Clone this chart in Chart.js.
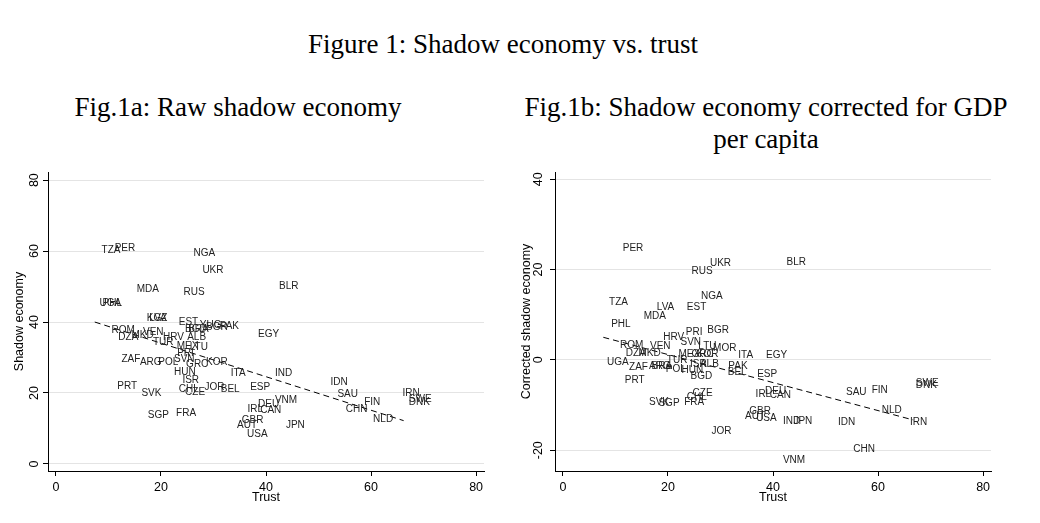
<!DOCTYPE html>
<html><head><meta charset="utf-8">
<script src="https://cdn.jsdelivr.net/npm/chart.js@4.4.1/dist/chart.umd.min.js"></script>
<style>
html,body{margin:0;padding:0;background:#fff;}
body{width:1040px;height:523px;position:relative;overflow:hidden;}
.t{position:absolute;font-family:"Liberation Serif","Times New Roman",serif;font-size:27px;color:#000;white-space:nowrap;transform:translate(-50%,-50%);line-height:1;}
canvas{position:absolute;top:0;}
</style></head><body>
<div class="t" style="left:503px;top:44px">Figure 1: Shadow economy vs. trust</div>
<div class="t" style="left:238px;top:107px">Fig.1a: Raw shadow economy</div>
<div class="t" style="left:766px;top:107px">Fig.1b: Shadow economy corrected for GDP</div>
<div class="t" style="left:766px;top:139px">per capita</div>
<canvas id="c1" width="520" height="523" style="left:0;width:520px;height:523px"></canvas>
<canvas id="c2" width="520" height="523" style="left:507px;width:520px;height:523px"></canvas>
<script>
// ---- Fig.1a data ----
const leftCodes  = ["TZA","PER","NGA","UKR","MDA","RUS","BLR","UGA","PHL","KGZ","LVA","EST","BGD","BRA","YUG","BGR","PAK","ROM","DZA","MKD","VEN","HRV","TUR","MEX","ALB","LTU","PRI","ZAF","ARG","POL","SVN","GRC","KOR","HUN","ISR","ITA","IND","EGY","CHL","CZE","JOR","BEL","ESP","DEU","VNM","IRL","CAN","FRA","GBR","AUT","USA","JPN","PRT","SVK","SGP","IDN","SAU","CHN","FIN","NLD","IRN","SWE","DNK"];
const leftTrust  = [8.5,11.0,26.0,27.7,15.2,24.1,42.3,8.1,8.7,17.1,17.6,23.2,24.4,25.0,27.2,28.4,31.0,10.4,11.7,14.2,16.4,20.2,18.3,22.8,24.8,25.3,22.9,12.3,15.8,19.3,22.3,24.6,28.4,22.3,23.9,33.1,41.5,38.3,23.2,24.4,28.1,31.2,36.8,38.3,41.5,36.3,38.7,22.7,35.2,34.3,36.2,43.6,11.5,16.1,17.3,52.1,53.4,55.0,58.5,60.2,65.8,67.0,67.0];
const leftShadow = [60.3,60.9,59.4,54.7,49.2,48.4,50.0,45.4,45.4,41.2,41.2,39.9,38.0,38.0,39.0,38.5,38.8,37.6,35.7,36.2,37.1,35.7,34.3,33.3,35.7,32.9,31.3,29.4,28.7,28.8,29.4,28.2,28.8,25.9,23.7,25.6,25.5,36.5,21.0,20.1,21.5,21.0,21.7,16.8,18.0,15.4,15.0,14.4,12.4,10.8,8.4,10.8,21.9,20.0,13.7,22.9,19.6,15.4,17.3,12.6,19.9,18.2,17.3];
const leftFitX = [7.4, 66.2];
const leftFitY = [40.0, 12.2];
const leftYTicks = [0,20,40,60,80];

// ---- Fig.1b data ----
const rightCodes = ["PER","UKR","RUS","BLR","NGA","TZA","LVA","EST","MDA","PHL","PRI","BGR","HRV","SVN","ROM","VEN","LTU","MOR","ITA","EGY","PAK","BEL","ESP","BGD","DZA","MKD","UGA","ZAF","ARG","BRA","TUR","POL","HUN","MEX","GRC","KOR","ISR","ALB","PRT","SVK","SGP","FRA","CHL","CZE","JOR","IRL","DEU","CAN","GBR","AUT","USA","SAU","FIN","NLD","IRN","SWE","DNK","IND","JPN","IDN","CHN","VNM"];
const rightTrust = [11.2,27.8,24.3,42.4,26.1,8.6,17.7,23.4,15.2,9.0,23.2,27.3,18.9,22.2,10.7,16.4,25.6,28.4,33.2,38.5,31.3,31.2,36.8,24.1,11.8,14.2,8.2,12.4,16.2,16.7,19.6,19.4,22.4,21.8,24.3,25.3,24.0,25.9,11.6,16.2,18.0,22.9,23.4,24.5,28.1,36.5,38.3,39.2,35.3,34.5,36.6,53.7,58.6,60.5,65.9,67.0,67.0,41.7,43.7,52.2,55.1,41.7];
const rightCorr  = [24.8,21.3,19.6,21.6,14.1,12.8,11.6,11.6,9.6,7.9,6.2,6.5,5.0,3.9,3.3,3.0,3.0,2.6,1.1,1.1,-1.3,-2.8,-3.2,-3.7,1.5,1.5,-0.5,-1.6,-1.3,-1.3,0.0,-2.1,-2.4,1.3,1.3,1.3,-1.0,-1.0,-4.4,-9.4,-9.6,-9.3,-8.2,-7.4,-15.7,-7.6,-6.9,-7.8,-11.3,-12.4,-13.0,-7.2,-6.8,-11.1,-13.7,-5.2,-5.7,-13.6,-13.6,-13.8,-19.8,-22.2];
const rightFitX = [7.7, 66.7];
const rightFitY = [5.0, -13.3];
const rightYTicks = [-20,0,20,40];

const xTicks = [0,20,40,60,80];

const SANS = '"Liberation Sans", Arial, sans-serif';

const labelPlugin = {
  id: 'mlabels',
  afterDatasetsDraw(chart) {
    const ctx = chart.ctx;
    const ds = chart.data.datasets[0];
    const meta = chart.getDatasetMeta(0);
    ctx.save();
    ctx.font = '10px ' + SANS;
    ctx.fillStyle = '#222';
    ctx.textAlign = 'left';
    ctx.textBaseline = 'middle';
    meta.data.forEach((el, i) => ctx.fillText(ds.codes[i], el.x + 1, el.y));
    ctx.restore();
  }
};

function makeChart(id, codes, xs, ys, fx, fy, yMin, yMax, yTicks, yTitle) {
  return new Chart(document.getElementById(id), {
    type: 'scatter',
    data: {
      datasets: [
        { codes: codes, data: xs.map((x, i) => ({x: x, y: ys[i]})), pointRadius: 0, pointHoverRadius: 0 },
        { data: fx.map((x, i) => ({x: x, y: fy[i]})), showLine: true, pointRadius: 0,
          borderColor: '#000', borderWidth: 1, borderDash: [6, 4] }
      ]
    },
    options: {
      responsive: false, animation: false, devicePixelRatio: 1,
      layout: { autoPadding: false, padding: { left: 0, top: 172, right: 36, bottom: 0 } },
      plugins: { legend: { display: false }, tooltip: { enabled: false } },
      scales: {
        x: {
          type: 'linear', min: -1.5, max: 81.5,
          afterBuildTicks: s => { s.ticks = xTicks.map(v => ({value: v})); },
          afterFit: s => { s.height = 52; },
          ticks: { font: { family: SANS, size: 12.5 }, color: '#000', padding: 4, maxRotation: 0, autoSkip: false },
          grid: { drawOnChartArea: false, drawTicks: true, tickLength: 5, tickColor: '#000' },
          border: { display: true, color: '#000', width: 1 },
          title: { display: true, text: 'Trust', color: '#000', font: { family: SANS, size: 12.5 }, padding: { top: 0, bottom: 18 } }
        },
        y: {
          type: 'linear', min: yMin, max: yMax,
          afterBuildTicks: s => { s.ticks = yTicks.map(v => ({value: v})); },
          afterFit: s => { s.width = 48; },
          ticks: { font: { family: SANS, size: 12.5 }, color: '#000', padding: 2, minRotation: 90, maxRotation: 90, crossAlign: 'center', autoSkip: false },
          grid: { color: '#e4e4e4', lineWidth: 1, drawTicks: true, tickLength: 5, tickColor: '#000' },
          border: { display: true, color: '#000', width: 1 },
          title: { display: true, text: yTitle, color: '#000', font: { family: SANS, size: 12.5 }, padding: { top: 12, bottom: 0 } }
        }
      }
    },
    plugins: [labelPlugin]
  });
}

makeChart('c1', leftCodes, leftTrust, leftShadow, leftFitX, leftFitY, -2, 82.3, leftYTicks, 'Shadow economy');
makeChart('c2', rightCodes, rightTrust, rightCorr, rightFitX, rightFitY, -24.6, 41.6, rightYTicks, 'Corrected shadow economy');
</script>
</body></html>
